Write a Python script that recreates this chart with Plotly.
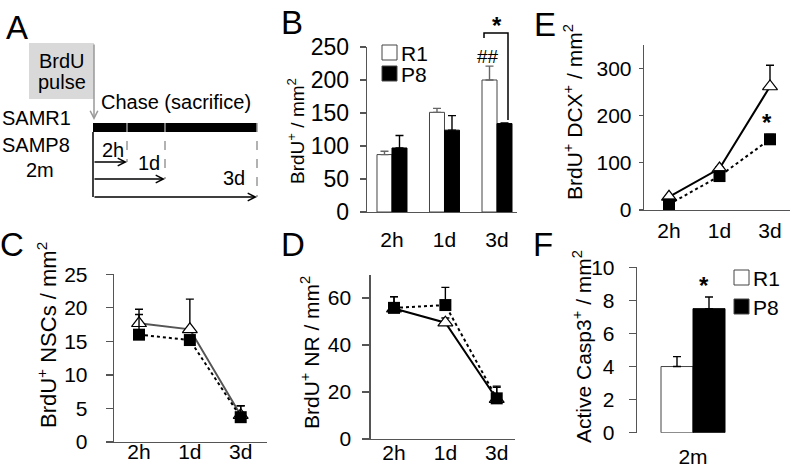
import plotly.graph_objects as go

W, H = 793, 465
FONT = "Arial, Liberation Sans, Helvetica, sans-serif"

# ---------------- data ----------------
timepoints = ["2h", "1d", "3d"]
groups = ["R1", "P8"]

# B: BrdU+ / mm2 (bars)
brdu_r1 = [87, 151, 200]
brdu_r1_sem = [5, 6, 21]
brdu_p8 = [97, 124, 134]
brdu_p8_sem = [19, 22, 1]

# C: BrdU+ NSCs / mm2
nsc_r1 = [17.7, 16.8, 4.0]
nsc_r1_sem = [2.1, 4.5, 1.4]
nsc_p8 = [16.0, 15.2, 3.7]
nsc_p8_sem = [3.0, 0.6, 1.7]

# D: BrdU+ NR / mm2
nr_r1 = [55.5, 49.5, 17.0]
nr_r1_sem = [5.0, 2.0, 5.0]
nr_p8 = [55.8, 57.0, 17.3]
nr_p8_sem = [4.8, 7.5, 5.2]

# E: BrdU+ DCX+ / mm2
dcx_r1 = [28, 88, 262]
dcx_r1_sem = [3, 4, 45]
dcx_p8 = [12, 72, 150]
dcx_p8_sem = [2, 4, 10]

# F: Active Casp3+ / mm2
casp_age = ["2m"]
casp_r1 = [4.0]
casp_r1_sem = [0.6]
casp_p8 = [7.5]
casp_p8_sem = [0.7]

# ---------------- helpers ----------------
def xd(a, b):
    return [a / W, b / W]

def yd(top, bottom):
    return [1 - bottom / H, 1 - top / H]

def px(x):
    return x / W

def py(y):
    return 1 - y / H

idx = list(range(len(timepoints)))
AX = "#555555"
TICK = 21
fig = go.Figure()

BW = 0.2857

def up_err(sem, color="black"):
    return dict(type="data", symmetric=False, array=sem, arrayminus=[0] * len(sem),
                color=color, thickness=1.4, width=4)

# ---- B bars
fig.add_trace(go.Bar(x=idx, y=brdu_r1, width=BW, offset=-BW, xaxis="x", yaxis="y",
                     marker=dict(color="white", line=dict(color="#444", width=1)),
                     error_y=up_err(brdu_r1_sem, "#666"), showlegend=False))
fig.add_trace(go.Bar(x=idx, y=brdu_p8, width=BW, offset=0, xaxis="x", yaxis="y",
                     marker=dict(color="black", line=dict(color="black", width=1)),
                     error_y=up_err(brdu_p8_sem), showlegend=False))

# ---- F bars
fig.add_trace(go.Bar(x=[0], y=casp_r1, width=BW, offset=-BW, xaxis="x5", yaxis="y5",
                     marker=dict(color="white", line=dict(color="#444", width=1)),
                     error_y=up_err(casp_r1_sem), showlegend=False))
fig.add_trace(go.Bar(x=[0], y=casp_p8, width=BW, offset=0, xaxis="x5", yaxis="y5",
                     marker=dict(color="black", line=dict(color="black", width=1)),
                     error_y=up_err(casp_p8_sem), showlegend=False))

# ---- line panels
def add_lines(r1, r1s, p8, p8s, xa, ya, r1color="black"):
    fig.add_trace(go.Scatter(x=idx, y=r1, xaxis=xa, yaxis=ya, mode="lines+markers",
                             line=dict(color=r1color, width=2),
                             marker=dict(symbol="triangle-up", size=13, color="white",
                                         line=dict(color="black", width=1.2)),
                             error_y=up_err(r1s), cliponaxis=False, showlegend=False))
    fig.add_trace(go.Scatter(x=idx, y=p8, xaxis=xa, yaxis=ya, mode="lines+markers",
                             line=dict(color="black", width=2, dash="dot"),
                             marker=dict(symbol="square", size=12, color="black"),
                             error_y=up_err(p8s), cliponaxis=False, showlegend=False))

add_lines(dcx_r1, dcx_r1_sem, dcx_p8, dcx_p8_sem, "x2", "y2")
add_lines(nsc_r1, nsc_r1_sem, nsc_p8, nsc_p8_sem, "x3", "y3", r1color="#555555")
add_lines(nr_r1, nr_r1_sem, nr_p8, nr_p8_sem, "x4", "y4")

# ---------------- axes ----------------
tf = dict(family=FONT, size=TICK, color="black")

def yax(dom, rng, dtick, ticklen=6, standoff=3, fsize=TICK):
    return dict(domain=dom, range=rng, dtick=dtick, showline=True, linecolor=AX, linewidth=1.3,
                ticks="outside", ticklen=ticklen, tickcolor=AX, tickwidth=1.2,
                tickfont=dict(family=FONT, size=fsize, color="black"),
                showgrid=False, zeroline=False, ticklabelstandoff=standoff, fixedrange=True,
                automargin=False)

def xax(dom, rng, ticklen, showline=True, vals=None, text=None, standoff=0):
    return dict(domain=dom, range=rng, showline=showline, linecolor=AX, linewidth=1.3,
                ticks="outside", ticklen=ticklen, tickcolor="rgba(0,0,0,0)",
                tickvals=vals if vals is not None else idx,
                ticktext=text if text is not None else timepoints,
                tickfont=tf, showgrid=False, zeroline=False, fixedrange=True,
                ticklabelstandoff=standoff, automargin=False)

layout = dict(
    width=W, height=H, autosize=False,
    margin=dict(l=0, r=0, t=0, b=0, pad=0, autoexpand=False),
    paper_bgcolor="white", plot_bgcolor="rgba(0,0,0,0)",
    barmode="overlay", font=dict(family=FONT, size=20, color="black"),
    showlegend=False,
    # B
    xaxis=dict(xax(xd(367, 517), [-0.476, 2.381], 8), anchor="y"),
    yaxis=dict(yax(yd(47, 212), [0, 250], 50, 6, 6, fsize=23), anchor="x"),
    # E
    xaxis2=dict(xax(xd(644, 790), [-0.495, 2.396], 1), anchor="y2"),
    yaxis2=dict(yax(yd(45, 210), [0, 350], 100, 4, 3), anchor="x2"),
    # C
    xaxis3=dict(xax(xd(114, 267), [-0.492, 2.517], 0, standoff=-10), anchor="y3"),
    yaxis3=dict(yax(yd(274.3, 442), [0, 25], 5, 7, 14), anchor="x3"),
    # D
    xaxis4=dict(xax(xd(370.7, 515), [-0.454, 2.356], 0, standoff=-6), anchor="y4"),
    yaxis4=dict(yax(yd(274.5, 439), [0, 70], 20, 7, 7), anchor="x4"),
    # F
    xaxis5=dict(xax(xd(637, 749), [-0.5, 0.5], 5, showline=False, vals=[0], text=casp_age), anchor="y5"),
    yaxis5=dict(yax(yd(267.3, 432.7), [0, 10], 2, 7, 10), anchor="x5"),
    # A (schematic, pixel units)
    xaxis6=dict(domain=xd(0, 280), range=[0, 280], visible=False, fixedrange=True, anchor="y6"),
    yaxis6=dict(domain=yd(0, 230), range=[230, 0], visible=False, fixedrange=True, anchor="x6"),
)
fig.update_layout(**layout)

ann = []
shapes = []

def txt(x, y, s, size=20, xanchor="center", ref="paper", **kw):
    d = dict(text=s, showarrow=False, font=dict(family=FONT, size=size, color="black"),
             xanchor=xanchor, yanchor="middle")
    if ref == "paper":
        d.update(x=px(x), y=py(y), xref="paper", yref="paper")
    else:
        d.update(x=x, y=y, xref="x6", yref="y6")
    d.update(kw)
    ann.append(d)

# panel letters
for s, x, y in [("A", 17, 28), ("B", 292, 23), ("E", 545, 24),
                ("C", 12, 244), ("D", 293, 244), ("F", 543, 244)]:
    txt(x, y, s, size=33)

# y titles
txt(296, 131, "BrdU<sup>+</sup> / mm<sup>2</sup>", size=19, textangle=-90)
txt(573, 112, "BrdU<sup>+</sup> DCX<sup>+</sup> / mm<sup>2</sup>", size=21, textangle=-90)
txt(47, 335, "BrdU<sup>+</sup> NSCs / mm<sup>2</sup>", size=22, textangle=-90)
txt(310, 353, "BrdU<sup>+</sup> NR / mm<sup>2</sup>", size=21, textangle=-90)
txt(582, 347, "Active Casp3<sup>+</sup> / mm<sup>2</sup>", size=21, textangle=-90)

# significance marks
txt(497, 26, "<b>*</b>", size=24)
txt(488, 56, "##", size=19)
txt(767, 122, "<b>*</b>", size=24)
txt(704, 285, "<b>*</b>", size=24)

# bracket in B
shapes.append(dict(type="path", xref="paper", yref="paper",
                   path=f"M{px(484)},{py(38)} L{px(484)},{py(33)} L{px(508)},{py(33)} L{px(508)},{py(120)}",
                   line=dict(color="black", width=1.5)))

# legends (B and F)
for (lx, ly0, ly1) in [(382, 45, 66), (734, 270, 299)]:
    for gname, yy, fill in [(groups[0], ly0, "white"), (groups[1], ly1, "black")]:
        shapes.append(dict(type="rect", xref="paper", yref="paper",
                           x0=px(lx), x1=px(lx + 15), y0=py(yy), y1=py(yy + 15),
                           fillcolor=fill, line=dict(color="#444", width=1)))
        txt(lx + 17, yy + 8, gname, xanchor="left", size=21)

# ---------------- panel A schematic ----------------
shapes.append(dict(type="rect", xref="x6", yref="y6", x0=29, x1=94, y0=43, y1=99,
                   fillcolor="#d9d9d9", line=dict(width=0), layer="below"))
txt(62, 61, "BrdU", ref="x6")
txt(62, 82, "pulse", ref="x6")
txt(176, 102, "Chase (sacrifice)", ref="x6")
txt(36, 118, "SAMR1", ref="x6")
txt(36, 145, "SAMP8", ref="x6")
txt(40, 170, "2m", ref="x6")

shapes.append(dict(type="rect", xref="x6", yref="y6", x0=93, x1=257, y0=123, y1=132,
                   fillcolor="black", line=dict(width=0)))
chase_x = [127, 165, 257]
chase_y = [162, 179, 197]
label_xy = [(113, 150), (149, 163), (234, 178)]
for t, cx, cy, (lx, ly) in zip(timepoints, chase_x, chase_y, label_xy):
    shapes.append(dict(type="line", xref="x6", yref="y6", x0=cx, x1=cx, y0=123, y1=cy,
                       line=dict(color="#999999", width=1.5, dash="dash")))
    ann.append(dict(x=cx, y=cy, ax=93, ay=cy, xref="x6", yref="y6", axref="x6", ayref="y6",
                    text="", showarrow=True, arrowhead=5, arrowsize=1, arrowwidth=1.5,
                    arrowcolor="black", standoff=0))
    txt(lx, ly, t, ref="x6")
shapes.append(dict(type="line", xref="x6", yref="y6", x0=93, x1=93, y0=132, y1=197,
                   line=dict(color="black", width=1.5)))
ann.append(dict(x=94, y=120, ax=94, ay=43, xref="x6", yref="y6", axref="x6", ayref="y6",
                text="", showarrow=True, arrowhead=5, arrowsize=1, arrowwidth=1.5,
                arrowcolor="#999999", standoff=0))

fig.update_layout(annotations=ann, shapes=shapes)
fig.write_html("out.html", config={"staticPlot": True},
               post_script="document.body.style.margin='0px';document.body.style.padding='0px';")
